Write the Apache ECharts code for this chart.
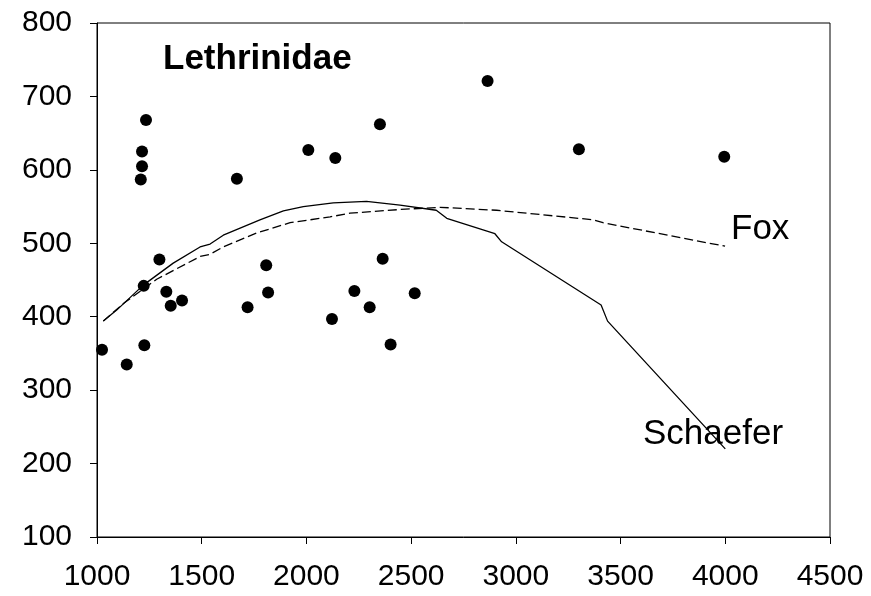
<!DOCTYPE html>
<html>
<head>
<meta charset="utf-8">
<script src="https://cdn.jsdelivr.net/npm/echarts@6/dist/echarts.min.js"></script>
<style>html,body{margin:0;padding:0;background:#fff}#c{width:871px;height:596px}</style>
</head>
<body>
<div id="c"></div>
<script>
// Observed data points (effort, catch)
const obsX = [1024,1142,1226,1234,1215,1215,1209,1298,1223,1331,1352,1406,1668,1719,1808,1817,2009,2138,2122,2229,2302,2364,2351,2402,2517,2865,3301,3995];
const obsY = [355,335,361,668,625,605,587,478,442,434,415,422,588,413,470,433,627,616,397,435,413,479,662,362,432,721,628,618];
// Schaefer model curve
const schX = [1030,1094,1221,1364,1492,1540,1603,1778,1890,1985,2128,2287,2447,2620,2670,2900,2932,3407,3438,4000];
const schY = [394,409,443,473,495,499,511,532,544,550,555,557,552,545,534,513,502,416,394,220];
// Fox model curve
const foxX = [1030,1126,1285,1492,1540,1603,1762,1922,2113,2208,2447,2638,2908,3370,3416,3999];
const foxY = [394,418,451,482,485,495,514,528,536,541,546,549,545,532,528,496];
// Axis ticks
const xTicks = [1000,1500,2000,2500,3000,3500,4000,4500];
const yTicks = [100,200,300,400,500,600,700,800];

const zip = (a,b) => a.map((v,i)=>[v,b[i]]);
const FONT = 'Liberation Sans, Arial, sans-serif';
const chart = echarts.init(document.getElementById('c'), null, {renderer:'canvas'});
chart.setOption({
  animation:false,
  backgroundColor:'#fff',
  grid:{left:97,right:41,top:23,bottom:59,show:true,borderColor:'#000',borderWidth:1,backgroundColor:'transparent'},
  xAxis:{type:'value',min:xTicks[0],max:xTicks[xTicks.length-1],interval:500,
    axisLine:{show:true,onZero:false,lineStyle:{color:'#000',width:1}},
    axisTick:{show:true,inside:false,length:7,lineStyle:{color:'#000'}},
    axisLabel:{color:'#000',fontFamily:FONT,fontSize:30,margin:25,formatter:v=>String(v)},
    splitLine:{show:false}},
  yAxis:{type:'value',min:yTicks[0],max:yTicks[yTicks.length-1],interval:100,
    axisLine:{show:true,onZero:false,lineStyle:{color:'#000',width:1}},
    axisTick:{show:true,inside:false,length:7,lineStyle:{color:'#000'}},
    axisLabel:{color:'#000',fontFamily:FONT,fontSize:30,margin:25,formatter:v=>String(v)},
    splitLine:{show:false}},
  series:[
    {type:'line',data:zip(schX,schY),symbol:'none',lineStyle:{color:'#000',width:1.3,type:'solid'},z:2},
    {type:'line',data:zip(foxX,foxY),symbol:'none',lineStyle:{color:'#000',width:1.3,type:[9,4]},z:2},
    {type:'scatter',data:zip(obsX,obsY),symbol:'circle',symbolSize:12,itemStyle:{color:'#000',opacity:1},z:3}
  ],
  graphic:[
    {type:'text',left:163,top:42,style:{text:'Lethrinidae',font:'bold 35px '+FONT,fill:'#000'}},
    {type:'text',left:731,top:212,style:{text:'Fox',font:'35px '+FONT,fill:'#000'}},
    {type:'text',left:643,top:417,style:{text:'Schaefer',font:'35px '+FONT,fill:'#000'}}
  ]
});
</script>
</body>
</html>
